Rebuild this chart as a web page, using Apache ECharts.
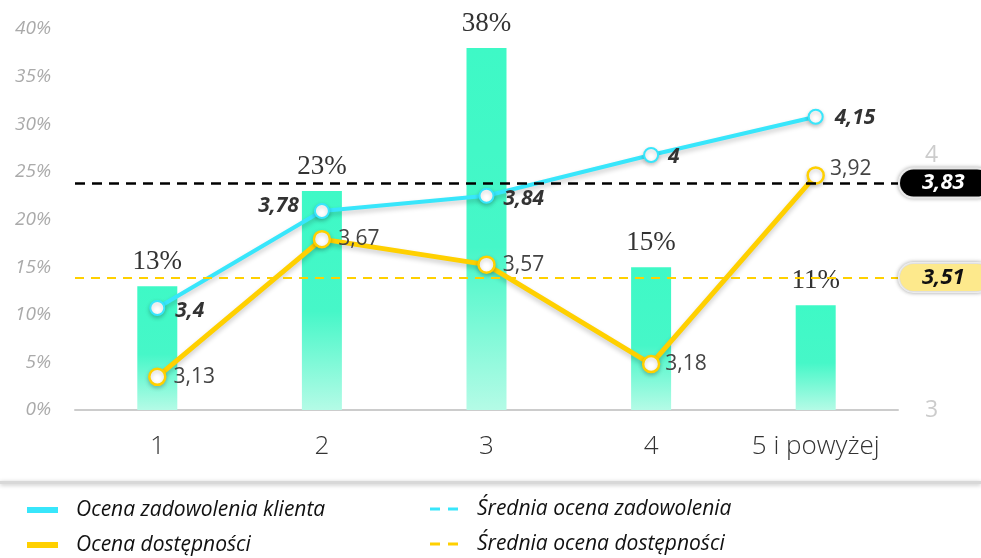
<!DOCTYPE html>
<html>
<head>
<meta charset="utf-8">
<script src="https://cdn.jsdelivr.net/npm/echarts@6/dist/echarts.min.js"></script>
<style>
  html, body { margin: 0; padding: 0; background: #fff; }
  #chart { width: 981px; height: 558px; }
</style>
</head>
<body>
<div id="chart"></div>
<script>
// data
var categories = ["1", "2", "3", "4", "5 i powyżej"];
var sharePct = [13, 23, 38, 15, 11];
var satisfaction = [3.4, 3.78, 3.84, 4, 4.15];
var availability = [3.13, 3.67, 3.57, 3.18, 3.92];
var avgLabels = [3.83, 3.51];
// the reference draws the average lines a bit off their labels
var avgLevels = [3.89, 3.52];
var leftTicks = [0, 5, 10, 15, 20, 25, 30, 35, 40];

// label placement per point
var satPos = [
  { position: "right", offset: [5, 3] },
  { position: "left", offset: [-10, -5] },
  { position: "right", offset: [4, 3] },
  { position: "right", offset: [4, 2] },
  { position: "right", offset: [6, 1] }
];
var avPos = [
  { position: "right", offset: [2, 0] },
  { position: "right", offset: [2, 0] },
  { position: "right", offset: [2, 0] },
  { position: "right", offset: [0, 0] },
  { position: "right", offset: [0, -6] }
];

function pl(v) {
  return String(v).replace(".", ",");
}

var CYAN = "#38e6fb";
var YELLOW = "#ffd000";
var DASH_ICON = "path://M0,0h10v3h-10zM18,0h10v3h-10z";

// one legend box per entry so each sits where the reference has it
function legendItem(name, color, left, top, dashed) {
  return {
    orient: "horizontal",
    left: left,
    top: top,
    padding: 0,
    itemWidth: dashed ? 28 : 31,
    itemHeight: dashed ? 3 : 6,
    selectedMode: false,
    textStyle: {
      fontSize: 21,
      lineHeight: 24,
      fontStyle: "italic",
      color: "#111",
      padding: [0, 0, 0, dashed ? 14 : 13]
    },
    data: [{ name: name, icon: dashed ? DASH_ICON : "rect", itemStyle: { color: color, borderWidth: 0 } }]
  };
}

function avgBadge(text, fg, bg) {
  return {
    position: "end",
    distance: 2,
    formatter: text,
    color: fg,
    backgroundColor: bg,
    borderColor: "#fff",
    borderWidth: 2,
    borderRadius: 15,
    padding: [3, 26, 2, 22],
    fontSize: 22,
    fontWeight: "bold",
    fontStyle: "italic",
    shadowColor: "rgba(0,0,0,0.3)",
    shadowBlur: 4
  };
}

var chart = echarts.init(document.getElementById("chart"));

var option = {
  animation: false,
  textStyle: { fontFamily: "Open Sans" },
  grid: { left: 75, right: 83, top: 29, bottom: 148 },
  legend: [
    legendItem("Ocena zadowolenia klienta", CYAN, 27, 498, false),
    legendItem("Ocena dostępności", YELLOW, 27, 533, false),
    legendItem("Średnia ocena zadowolenia", CYAN, 430, 497, true),
    legendItem("Średnia ocena dostępności", YELLOW, 430, 532, true)
  ],
  graphic: [
    {
      type: "rect",
      left: 0,
      top: 481,
      shape: { width: 981, height: 3 },
      style: { fill: "#d8d8d8", shadowBlur: 4, shadowColor: "rgba(0,0,0,0.25)", shadowOffsetY: 1 }
    }
  ],
  xAxis: {
    type: "category",
    data: categories,
    axisLine: { lineStyle: { color: "#cccccc", width: 2 } },
    axisTick: { show: false },
    axisLabel: { color: "#333", fontSize: 26, fontWeight: 300, margin: 24, interval: 0 }
  },
  yAxis: [
    {
      type: "value",
      min: leftTicks[0],
      max: leftTicks[leftTicks.length - 1],
      interval: 5,
      splitLine: { show: false },
      axisLine: { show: false },
      axisTick: { show: false },
      axisLabel: {
        color: "#aaaaaa",
        fontSize: 19,
        fontStyle: "italic",
        margin: 24,
        formatter: function (v) { return v + "%"; }
      }
    },
    {
      type: "value",
      min: 3,
      max: 4.494,
      interval: 1,
      splitLine: { show: false },
      axisLine: { show: false },
      axisTick: { show: false },
      axisLabel: {
        color: "#cccccc",
        fontSize: 23,
        margin: 27,
        formatter: function (v) { return Number.isInteger(v) ? String(v) : ""; }
      }
    }
  ],
  series: [
    {
      name: "Udział",
      type: "bar",
      data: sharePct,
      barWidth: 40,
      itemStyle: {
        color: new echarts.graphic.LinearGradient(0, 0, 0, 1, [
          { offset: 0, color: "#3ef9c6" },
          { offset: 0.55, color: "#46f7c8" },
          { offset: 1, color: "#b4fbe6" }
        ])
      },
      label: {
        show: true,
        position: "top",
        distance: 11,
        fontFamily: "Liberation Serif",
        fontSize: 27,
        color: "#333",
        formatter: function (p) { return p.value + "%"; }
      },
      z: 1
    },
    {
      name: "Ocena zadowolenia klienta",
      type: "line",
      yAxisIndex: 1,
      data: satisfaction.map(function (v, i) {
        return { value: v, label: satPos[i] };
      }),
      color: CYAN,
      lineStyle: { width: 4, color: CYAN, shadowColor: "rgba(0,0,0,0.2)", shadowBlur: 5, shadowOffsetY: 3 },
      symbol: "circle",
      symbolSize: 14,
      itemStyle: { color: "#fff", borderColor: CYAN, borderWidth: 2, shadowColor: "rgba(0,0,0,0.2)", shadowBlur: 4, shadowOffsetY: 2 },
      label: {
        show: true,
        fontSize: 21,
        fontWeight: "bold",
        fontStyle: "italic",
        color: "#333",
        formatter: function (p) { return pl(p.value); }
      },
      z: 4
    },
    {
      name: "Ocena dostępności",
      type: "line",
      yAxisIndex: 1,
      data: availability.map(function (v, i) {
        return { value: v, label: avPos[i] };
      }),
      color: YELLOW,
      lineStyle: { width: 5, color: YELLOW, shadowColor: "rgba(0,0,0,0.2)", shadowBlur: 5, shadowOffsetY: 3 },
      symbol: "circle",
      symbolSize: 16,
      itemStyle: { color: "#fff", borderColor: YELLOW, borderWidth: 2.5, shadowColor: "rgba(0,0,0,0.2)", shadowBlur: 4, shadowOffsetY: 2 },
      label: {
        show: true,
        fontSize: 21,
        color: "#444",
        formatter: function (p) { return pl(p.value); }
      },
      z: 3
    },
    {
      name: "Średnia ocena zadowolenia",
      type: "line",
      yAxisIndex: 1,
      data: [],
      color: CYAN,
      lineStyle: { color: CYAN, type: "dashed" },
      markLine: {
        silent: true,
        symbol: "none",
        lineStyle: { color: "#000", type: [10, 7], width: 2.5 },
        label: avgBadge(pl(avgLabels[0]), "#fff", "#000"),
        data: [{ yAxis: avgLevels[0] }]
      },
      z: 2
    },
    {
      name: "Średnia ocena dostępności",
      type: "line",
      yAxisIndex: 1,
      data: [],
      color: YELLOW,
      lineStyle: { color: YELLOW, type: "dashed" },
      markLine: {
        silent: true,
        symbol: "none",
        lineStyle: { color: YELLOW, type: [9, 7], width: 2 },
        label: avgBadge(pl(avgLabels[1]), "#111", "#fde98c"),
        data: [{ yAxis: avgLevels[1] }]
      },
      z: 2
    }
  ]
};

chart.setOption(option);
</script>
</body>
</html>
